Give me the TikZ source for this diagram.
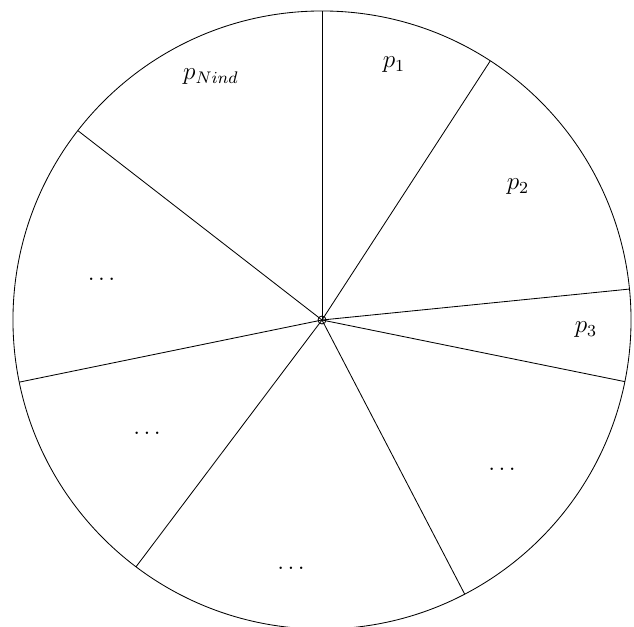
\documentclass[tikz,border=0pt]{standalone}
\usetikzlibrary{calc}
\newcommand{\mydots}{.\kern1.6pt.\kern1.6pt.}
\begin{document}
\begin{tikzpicture}[x=0.476pt,y=-0.476pt,
  wheel/.style={line width=0.4pt},
  lbl/.style={inner sep=0pt,font=\fontsize{12}{14}\selectfont},
  dotlbl/.style={inner sep=0pt,anchor=base,font=\fontsize{12}{14}\selectfont}]
\useasboundingbox (0,0) rectangle (634,627);
\coordinate (c) at (322,320);
\begin{scope}
\clip (0,0) rectangle (634,627);
\draw[wheel] (c) circle[radius=147.1pt];
\end{scope}
\foreach \a/\n in {90/a,57/b,5.75/d,-11.5/e,-62.5/f,-127/g,-168.4/h,142.2/k}{
  \coordinate (\n) at ($(c)+(\a:147.1pt)$);
  \draw[wheel] (c) -- (\n);
}
\node[draw,circle,minimum size=3.8pt,inner sep=0pt,line width=0.4pt] (hub) at (c) {};
\node[lbl] (l1) at (394,65) {$p_1$};
\node[lbl] (l2) at (518,187) {$p_2$};
\node[lbl] (l3) at (586,330) {$p_3$};
\node[lbl] (lN) at (211,77) {$p_{Nind}$};
\node[dotlbl] (d1) at (101.5,280) {\mydots};
\node[dotlbl] (d2) at (502,470) {\mydots};
\node[dotlbl] (d3) at (291,569) {\mydots};
\node[dotlbl] (d4) at (147,434) {\mydots};
\end{tikzpicture}
\end{document}
